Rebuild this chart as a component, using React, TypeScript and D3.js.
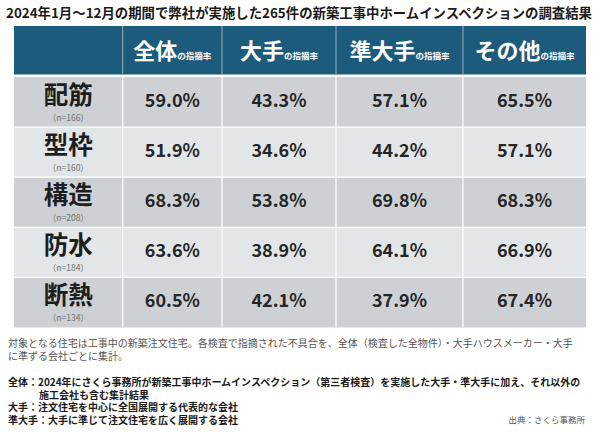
import React from "react";
import * as d3 from "d3";

const title = "2024年1月～12月の期間で弊社が実施した265件の新築工事中ホームインスペクションの調査結果";
const categories = ["配筋", "型枠", "構造", "防水", "断熱"];
const sampleSizes = [166, 160, 208, 184, 134];
const groups = ["全体", "大手", "準大手", "その他"];
const valuesAll = [59.0, 51.9, 68.3, 63.6, 60.5];
const valuesMajor = [43.3, 34.6, 53.8, 38.9, 42.1];
const valuesSemiMajor = [57.1, 44.2, 69.8, 64.1, 37.9];
const valuesOther = [65.5, 57.1, 68.3, 66.9, 67.4];
const seriesValues = [valuesAll, valuesMajor, valuesSemiMajor, valuesOther];
const headerSuffix = "の指摘率";
const noteLines = [
  "対象となる住宅は工事中の新築注文住宅。各検査で指摘された不具合を、全体（検査した全物件）・大手ハウスメーカー・大手",
  "に準ずる会社ごとに集計。",
];
const defLines = [
  { label: "全体：", text: "2024年にさくら事務所が新築工事中ホームインスペクション（第三者検査）を実施した大手・準大手に加え、それ以外の" },
  { label: "", text: "施工会社も含む集計結果" },
  { label: "大手：", text: "注文住宅を中心に全国展開する代表的な会社" },
  { label: "準大手：", text: "大手に準じて注文住宅を広く展開する会社" },
];
const source = "出典：さくら事務所";

const W = 600;
const H = 432;
const FONT = "'Noto Sans CJK JP', 'Noto Sans', sans-serif";
const colEdges = [14, 122.7, 222, 336, 463, 586];
const headerTop = 26;
const headerBottom = 74.5;
const rowsTop = 77;
const rowsBottom = 327.5;

export default function App() {
  const y = d3.scaleBand<string>().domain(categories).range([rowsTop, rowsBottom]).padding(0);
  const colKeys = ["label", ...groups];
  const x0 = d3.scaleOrdinal<string, number>().domain(colKeys).range(colEdges.slice(0, -1));
  const x1 = d3.scaleOrdinal<string, number>().domain(colKeys).range(colEdges.slice(1));
  const fmt = d3.format(".1f");
  const left = colEdges[0];
  const right = colEdges[colEdges.length - 1];

  return (
    <svg width={W} height={H} style={{ position: "absolute", left: 0, top: 0, background: "#fff" }} fontFamily={FONT}>
      <rect x={0} y={0} width={W} height={H} fill="#fff" />
      <text x={6} y={18} fontSize={13.5} fontWeight={700} fill="#1a1a1a" textLength={586} lengthAdjust="spacingAndGlyphs">
        {title}
      </text>

      {/* header */}
      <rect x={left} y={headerTop} width={right - left} height={headerBottom - headerTop} fill="#1c5b7c" />
      {groups.map((g) => {
        const cx = (x0(g) + x1(g)) / 2;
        return (
          <g key={g}>
            <line x1={x0(g)} x2={x0(g)} y1={headerTop} y2={headerBottom} stroke="#8fb3c6" strokeWidth={1} />
            <text x={cx} y={59} textAnchor="middle" fill="#fff" fontWeight={700}>
              <tspan fontSize={22}>{g}</tspan>
              <tspan fontSize={8.5} dy={-0.5}>{headerSuffix}</tspan>
            </text>
          </g>
        );
      })}

      {/* rows */}
      {categories.map((c, i) => {
        const top = y(c)!;
        const bh = y.bandwidth();
        const fill = i % 2 === 0 ? "#cdd1d5" : "#e3e6e9";
        const lx = (x0("label") + x1("label")) / 2;
        return (
          <g key={c}>
            <rect x={left} y={top} width={right - left} height={bh} fill={fill} />
            <text x={lx} y={top + 27} textAnchor="middle" fontSize={24.5} fontWeight={700} fill="#1e1e1e">
              {c}
            </text>
            <text x={lx} y={top + 43.5} textAnchor="middle" fontSize={8.5} fill="#707070">
              {`（n=${sampleSizes[i]}）`}
            </text>
            {groups.map((g, j) => (
              <text
                key={g}
                x={(x0(g) + x1(g)) / 2}
                y={top + bh / 2 + 4.5}
                textAnchor="middle"
                fontSize={18}
                fontWeight={600}
                fill="#262626"
              >
                {`${fmt(seriesValues[j][i])}%`}
              </text>
            ))}
          </g>
        );
      })}
      {/* grid lines */}
      {categories.slice(1).map((c) => (
        <line key={c} x1={left} x2={right} y1={y(c)!} y2={y(c)!} stroke="#fff" strokeWidth={1.2} />
      ))}
      {groups.map((g) => (
        <line key={g} x1={x0(g)} x2={x0(g)} y1={rowsTop} y2={rowsBottom} stroke="#fff" strokeWidth={1.2} />
      ))}

      {/* notes */}
      <text fontSize={10} fill="#555">
        {noteLines.map((t, i) => (
          <tspan key={i} x={8} y={347 + i * 12.5}>
            {t}
          </tspan>
        ))}
      </text>
      <text fontSize={10} fontWeight={700} fill="#1a1a1a">
        {defLines.map((d, i) => (
          <tspan key={i} x={d.label ? 8 : 39} y={386 + i * 12.6}>
            {d.label + d.text}
          </tspan>
        ))}
      </text>
      <text x={585} y={423} textAnchor="end" fontSize={8.5} fill="#555">
        {source}
      </text>
    </svg>
  );
}
